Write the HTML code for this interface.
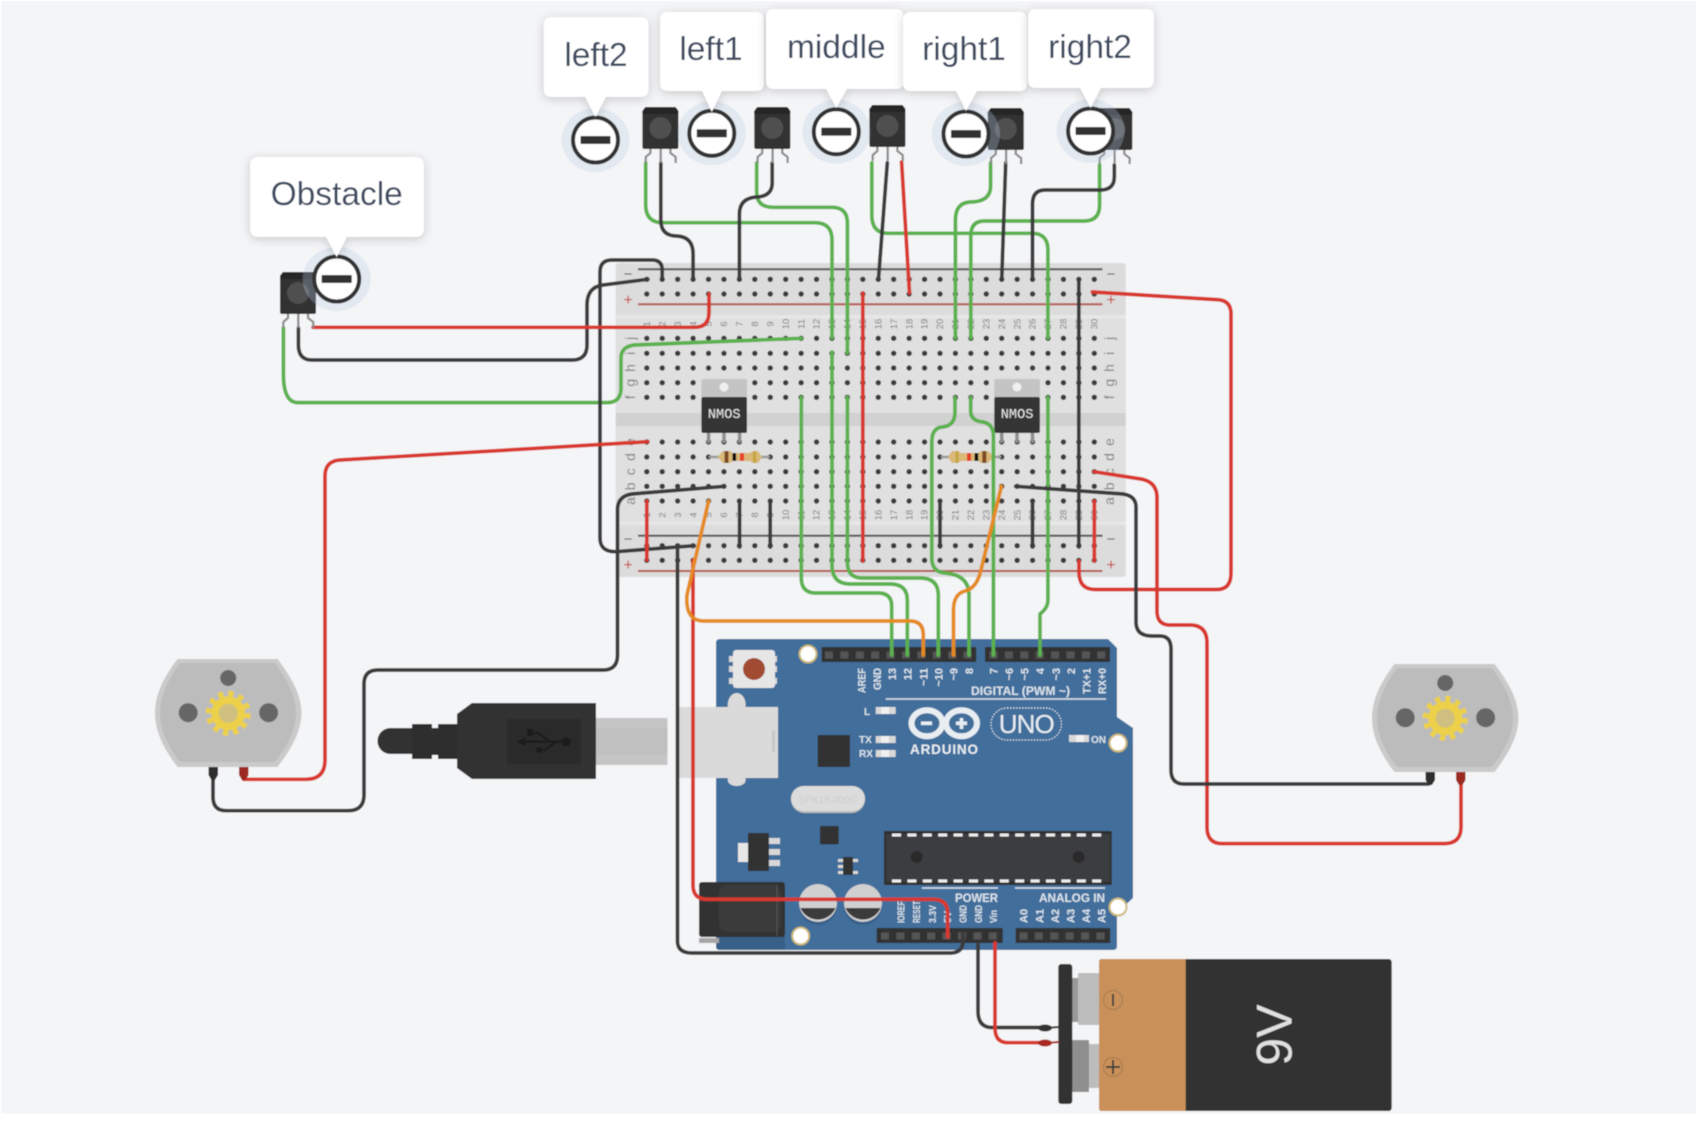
<!DOCTYPE html>
<html><head><meta charset="utf-8"><title>Circuit</title>
<style>
html,body{margin:0;padding:0;background:#fff}
svg{display:block;position:absolute;left:0;top:0}
text{font-family:"Liberation Sans",sans-serif}
.w{fill:none;stroke-width:3.7;stroke-linecap:round;stroke-linejoin:round}
.g{stroke:#5cb14f}.k{stroke:#3a3a3a}.r{stroke:#d8372f}.o{stroke:#e58a22}
.n{font-size:9.5px;fill:#7c7c7c;text-anchor:middle}
.l{font-size:14px;fill:#808080;text-anchor:middle}
.cal{font-size:33.5px;fill:#3c4a5f;text-anchor:middle}
.a{font-size:11px;font-weight:bold;fill:#dbe4ec}
.b{font-size:10px;font-weight:bold;fill:#dbe4ec}
.s{filter:drop-shadow(0 2px 5px rgba(0,0,0,.18))}
.m{font-family:"Liberation Mono",monospace;font-size:13.6px;fill:#e6e6e6;text-anchor:middle}
</style></head><body>
<svg width="1696" height="1130" viewBox="0 0 1696 1130" xmlns="http://www.w3.org/2000/svg">
<defs>
<filter id="b" x="0" y="0" width="100%" height="100%"><feGaussianBlur stdDeviation="0.55"/></filter>
<g id="ir">
<g fill="none" stroke="#8a8a8a" stroke-width="2.2"><path d="M8 42V46L3.3 50V56"/><path d="M18.3 42V56"/><path d="M28 42V46L33.3 50V56"/></g>
<path d="M3 0H33L36 4V40Q36 42 34 42H2Q0 42 0 40V4Z" fill="#303030"/>
<path d="M3 0H33L36 4V7H0V4Z" fill="#252525"/>
<circle cx="18" cy="21" r="11" fill="#505050"/>
</g>
<g id="mm">
<ellipse cx="0" cy="0" rx="34" ry="32" fill="rgb(187,205,227)" opacity=".3"/>
<circle cx="0" cy="0" r="22.5" fill="#fff" stroke="#333" stroke-width="4"/>
<rect x="-15" y="-4" width="30" height="8" fill="#333"/>
</g>
<g id="motor">
<path d="M177.5 659H277.5C292 678 301.4 695 301.4 713C301.4 731 292 748 277.5 767H177.5C163 748 155 731 155 713C155 695 163 678 177.5 659Z" fill="#cacaca"/>
<path d="M180 663H275C288 681 296 697 296 713C296 729 288 745 275 762H180C167 745 160 729 160 713C160 697 167 681 180 663Z" fill="#bcbcbc"/>
<circle cx="228.2" cy="678" r="8" fill="#666"/>
<circle cx="188.2" cy="712.7" r="9.5" fill="#666"/>
<circle cx="268.6" cy="712.7" r="9.5" fill="#666"/>
<circle cx="228.2" cy="713.3" r="17" fill="#ecd04a"/>
<circle cx="228.2" cy="713.3" r="19" fill="none" stroke="#ecd04a" stroke-width="7" stroke-dasharray="5 4.95"/>
<circle cx="228.2" cy="713.3" r="9.5" fill="#cfc081"/>
<path d="M208.5 767H218V775L215 780H211.5L208.5 775Z" fill="#2e2e2e"/>
<path d="M239 767H248.5V775L245.5 780H242L239 775Z" fill="#9c2a22"/>
</g>
</defs>
<rect x="0" y="0" width="1696" height="1130" fill="#fff"/>
<g filter="url(#b)">
<rect x="1" y="1" width="1695" height="1113" fill="#f4f5f7"/>

<!-- breadboard -->
<rect x="615.7" y="263" width="510" height="314" rx="3" fill="#dcdcdc"/>
<rect x="615.7" y="317" width="510" height="206" fill="#e0e0e0"/>
<rect x="615.7" y="413" width="510" height="13" fill="#d1d1d1"/>
<rect x="615.7" y="315" width="510" height="3" fill="#e7e7e7"/>
<rect x="615.7" y="522" width="510" height="3" fill="#e7e7e7"/>
<g stroke-width="2">
<line x1="638" x2="1102.5" y1="269.3" y2="269.3" stroke="#555"/>
<line x1="638" x2="1102.5" y1="304.3" y2="304.3" stroke="#b5524b"/>
<line x1="638" x2="1102.5" y1="535.7" y2="535.7" stroke="#555"/>
<line x1="638" x2="1102.5" y1="571" y2="571" stroke="#b5524b"/>
</g>
<g stroke="#3b3b3b" stroke-width="5.4" stroke-linecap="round" stroke-dasharray="0 15.431">
<line x1="646.8" x2="1094.6" y1="279.3" y2="279.3"/>
<line x1="646.8" x2="1094.6" y1="294" y2="294"/>
<line x1="646.8" x2="1094.6" y1="338.3" y2="338.3"/>
<line x1="646.8" x2="1094.6" y1="353.3" y2="353.3"/>
<line x1="646.8" x2="1094.6" y1="368" y2="368"/>
<line x1="646.8" x2="1094.6" y1="382.7" y2="382.7"/>
<line x1="646.8" x2="1094.6" y1="397.3" y2="397.3"/>
<line x1="646.8" x2="1094.6" y1="442" y2="442"/>
<line x1="646.8" x2="1094.6" y1="457" y2="457"/>
<line x1="646.8" x2="1094.6" y1="471.7" y2="471.7"/>
<line x1="646.8" x2="1094.6" y1="486.3" y2="486.3"/>
<line x1="646.8" x2="1094.6" y1="501" y2="501"/>
<line x1="646.8" x2="1094.6" y1="545.7" y2="545.7"/>
<line x1="646.8" x2="1094.6" y1="560.3" y2="560.3"/>
</g>
<g font-size="15" fill="#555" text-anchor="middle">
<text x="628" y="279">−</text><text x="1111" y="279">−</text>
<text x="628" y="544">−</text><text x="1111" y="544">−</text>
</g>
<g font-size="16" fill="#c4443c" text-anchor="middle">
<text x="628" y="305">+</text><text x="1111" y="305">+</text>
<text x="628" y="570">+</text><text x="1111" y="570">+</text>
</g>
<g class="n">
<text class="n" transform="translate(650,324) rotate(-90)">1</text><text class="n" transform="translate(665.4,324) rotate(-90)">2</text><text class="n" transform="translate(680.9,324) rotate(-90)">3</text><text class="n" transform="translate(696.3,324) rotate(-90)">4</text><text class="n" transform="translate(711.7,324) rotate(-90)">5</text><text class="n" transform="translate(727.2,324) rotate(-90)">6</text><text class="n" transform="translate(742.6,324) rotate(-90)">7</text><text class="n" transform="translate(758,324) rotate(-90)">8</text><text class="n" transform="translate(773.4,324) rotate(-90)">9</text><text class="n" transform="translate(788.9,324) rotate(-90)">10</text><text class="n" transform="translate(804.3,324) rotate(-90)">11</text><text class="n" transform="translate(819.7,324) rotate(-90)">12</text><text class="n" transform="translate(835.2,324) rotate(-90)">13</text><text class="n" transform="translate(850.6,324) rotate(-90)">14</text><text class="n" transform="translate(866,324) rotate(-90)">15</text><text class="n" transform="translate(881.4,324) rotate(-90)">16</text><text class="n" transform="translate(896.9,324) rotate(-90)">17</text><text class="n" transform="translate(912.3,324) rotate(-90)">18</text><text class="n" transform="translate(927.7,324) rotate(-90)">19</text><text class="n" transform="translate(943.2,324) rotate(-90)">20</text><text class="n" transform="translate(958.6,324) rotate(-90)">21</text><text class="n" transform="translate(974,324) rotate(-90)">22</text><text class="n" transform="translate(989.4,324) rotate(-90)">23</text><text class="n" transform="translate(1004.9,324) rotate(-90)">24</text><text class="n" transform="translate(1020.3,324) rotate(-90)">25</text><text class="n" transform="translate(1035.7,324) rotate(-90)">26</text><text class="n" transform="translate(1051.1,324) rotate(-90)">27</text><text class="n" transform="translate(1066.6,324) rotate(-90)">28</text><text class="n" transform="translate(1082,324) rotate(-90)">29</text><text class="n" transform="translate(1097.5,324) rotate(-90)">30</text>
<text class="n" transform="translate(650,515) rotate(-90)">1</text><text class="n" transform="translate(665.4,515) rotate(-90)">2</text><text class="n" transform="translate(680.9,515) rotate(-90)">3</text><text class="n" transform="translate(696.3,515) rotate(-90)">4</text><text class="n" transform="translate(711.7,515) rotate(-90)">5</text><text class="n" transform="translate(727.2,515) rotate(-90)">6</text><text class="n" transform="translate(742.6,515) rotate(-90)">7</text><text class="n" transform="translate(758,515) rotate(-90)">8</text><text class="n" transform="translate(773.4,515) rotate(-90)">9</text><text class="n" transform="translate(788.9,515) rotate(-90)">10</text><text class="n" transform="translate(804.3,515) rotate(-90)">11</text><text class="n" transform="translate(819.7,515) rotate(-90)">12</text><text class="n" transform="translate(835.2,515) rotate(-90)">13</text><text class="n" transform="translate(850.6,515) rotate(-90)">14</text><text class="n" transform="translate(866,515) rotate(-90)">15</text><text class="n" transform="translate(881.4,515) rotate(-90)">16</text><text class="n" transform="translate(896.9,515) rotate(-90)">17</text><text class="n" transform="translate(912.3,515) rotate(-90)">18</text><text class="n" transform="translate(927.7,515) rotate(-90)">19</text><text class="n" transform="translate(943.2,515) rotate(-90)">20</text><text class="n" transform="translate(958.6,515) rotate(-90)">21</text><text class="n" transform="translate(974,515) rotate(-90)">22</text><text class="n" transform="translate(989.4,515) rotate(-90)">23</text><text class="n" transform="translate(1004.9,515) rotate(-90)">24</text><text class="n" transform="translate(1020.3,515) rotate(-90)">25</text><text class="n" transform="translate(1035.7,515) rotate(-90)">26</text><text class="n" transform="translate(1051.1,515) rotate(-90)">27</text><text class="n" transform="translate(1066.6,515) rotate(-90)">28</text><text class="n" transform="translate(1082,515) rotate(-90)">29</text><text class="n" transform="translate(1097.5,515) rotate(-90)">30</text>
</g>
<g>
<text class="l" transform="translate(635,338.3) rotate(-90)">j</text><text class="l" transform="translate(635,353.3) rotate(-90)">i</text><text class="l" transform="translate(635,368) rotate(-90)">h</text><text class="l" transform="translate(635,382.7) rotate(-90)">g</text><text class="l" transform="translate(635,397.3) rotate(-90)">f</text><text class="l" transform="translate(635,442) rotate(-90)">e</text><text class="l" transform="translate(635,457) rotate(-90)">d</text><text class="l" transform="translate(635,471.7) rotate(-90)">c</text><text class="l" transform="translate(635,486.3) rotate(-90)">b</text><text class="l" transform="translate(635,501) rotate(-90)">a</text>
<text class="l" transform="translate(1114,338.3) rotate(-90)">j</text><text class="l" transform="translate(1114,353.3) rotate(-90)">i</text><text class="l" transform="translate(1114,368) rotate(-90)">h</text><text class="l" transform="translate(1114,382.7) rotate(-90)">g</text><text class="l" transform="translate(1114,397.3) rotate(-90)">f</text><text class="l" transform="translate(1114,442) rotate(-90)">e</text><text class="l" transform="translate(1114,457) rotate(-90)">d</text><text class="l" transform="translate(1114,471.7) rotate(-90)">c</text><text class="l" transform="translate(1114,486.3) rotate(-90)">b</text><text class="l" transform="translate(1114,501) rotate(-90)">a</text>
</g>

<!-- NMOS -->
<g>
<g stroke="#8d8d8d" stroke-width="3.4"><line x1="708.6" x2="708.6" y1="430" y2="443"/><line x1="724" x2="724" y1="430" y2="443"/><line x1="739.6" x2="739.6" y1="430" y2="443"/></g>
<rect x="701.4" y="379" width="45.6" height="20" rx="2" fill="#c4c4c4"/>
<circle cx="724" cy="387" r="4.5" fill="#efefef"/>
<rect x="701.4" y="397" width="45.6" height="36" rx="2" fill="#353535"/>
<text class="m" x="724.2" y="418">NMOS</text>
</g>
<g>
<g stroke="#8d8d8d" stroke-width="3.4"><line x1="1001.7" x2="1001.7" y1="430" y2="443"/><line x1="1017" x2="1017" y1="430" y2="443"/><line x1="1032.5" x2="1032.5" y1="430" y2="443"/></g>
<rect x="994.3" y="379" width="45.6" height="20" rx="2" fill="#c4c4c4"/>
<circle cx="1017" cy="387" r="4.5" fill="#efefef"/>
<rect x="994.3" y="397" width="45.6" height="36" rx="2" fill="#353535"/>
<text class="m" x="1017.1" y="418">NMOS</text>
</g>
<!-- resistors -->
<g>
<line x1="708.6" x2="770" y1="457" y2="457" stroke="#999" stroke-width="2.6"/>
<path d="M717.5 457L723 451H730L733 453H750L753 451H758L762 457L758 463H753L750 461H733L730 463H723Z" fill="#d9b878"/>
<rect x="724.5" y="451" width="4" height="12" fill="#7d4a20"/><rect x="732.5" y="453" width="3.6" height="8" fill="#111"/><rect x="740" y="453" width="4" height="8" fill="#e8402a"/><rect x="753" y="451" width="3" height="12" fill="#c2a73e"/>
<line x1="940.7" x2="1001.4" y1="457" y2="457" stroke="#999" stroke-width="2.6"/>
<path d="M948 457L952 451H958L961 453H978L981 451H988L994 457L988 463H981L978 461H961L958 463H952Z" fill="#d9b878"/>
<rect x="955.5" y="451" width="3" height="12" fill="#c2a73e"/><rect x="967" y="453" width="4" height="8" fill="#e8402a"/><rect x="974.6" y="453" width="3.6" height="8" fill="#111"/><rect x="982.3" y="451" width="4" height="12" fill="#7d4a20"/>
</g>

<!-- USB cable + arduino -->
<path d="M377.5 741a13 13 0 0 1 13-13H412V754H390.5a13 13 0 0 1-13-13Z" fill="#333"/>
<path d="M412 724H432V728H438V724H457V759H438V755H432V759H412Z" fill="#2f2f2f"/>
<path d="M457 714L472 703H596V779H472L457 768Z" fill="#313131"/>
<rect x="507" y="719" width="74" height="45" fill="#292929"/>
<g fill="none" stroke="#1c1c1c" stroke-width="2"><path d="M520 741.7H565"/><path d="M550 741.7L538 733H533"/><path d="M556 741.7L545 750H540"/></g>
<path d="M517 741.7L525 737.5V746Z" fill="#1c1c1c"/>
<circle cx="566" cy="741.7" r="4.5" fill="#1c1c1c"/><rect x="527" y="729" width="6" height="7" fill="#1c1c1c"/><circle cx="539" cy="750" r="3" fill="#1c1c1c"/>
<rect x="596" y="718" width="71.5" height="47" fill="#c5c5c5"/>
<rect x="596" y="728" width="71.5" height="26" fill="#c0c0c0"/>

<path d="M720 639H1108L1117 648V717L1133 728V898L1117 913V946Q1117 950 1113 950H720Q716 950 716 946V643Q716 639 720 639Z" fill="#426e9b"/>
<path d="M716 936H785V950H720Q716 950 716 946Z" fill="#385f88"/>
<ellipse cx="736.7" cy="705" rx="9" ry="12" fill="#dadada"/><ellipse cx="736.7" cy="780" rx="9" ry="6" fill="#dadada"/>
<rect x="678" y="707" width="100" height="71" fill="#dadada"/>
<rect x="772" y="730" width="3" height="22" fill="#c8c8c8"/>
<g fill="#fff" stroke="#cdb978" stroke-width="2"><circle cx="808" cy="654" r="8.5"/><circle cx="1118" cy="743" r="8.5"/><circle cx="1118" cy="907" r="8.5"/><circle cx="800.7" cy="936" r="8.5"/></g>
<!-- reset -->
<g fill="#d8d8d8"><rect x="729" y="656" width="48" height="6"/><rect x="729" y="666" width="48" height="6"/><rect x="729" y="678" width="48" height="6"/></g>
<rect x="733" y="650" width="42" height="38" rx="3" fill="#e6e6e6"/>
<circle cx="754" cy="669" r="11" fill="#a04b32"/>
<!-- headers -->
<g fill="#333">
<rect x="821.7" y="647" width="154.5" height="15"/>
<rect x="985" y="647" width="125" height="15"/>
<rect x="876.7" y="928" width="126" height="15"/>
<rect x="1015.7" y="928" width="94.5" height="15"/>
</g>
<g stroke="#555" stroke-width="7" fill="none" stroke-dasharray="8 7.4">
<line x1="825" x2="976" y1="655" y2="655"/>
<line x1="989.5" x2="1110" y1="655" y2="655"/>
<line x1="881" x2="1002" y1="936" y2="936"/>
<line x1="1019.5" x2="1110" y1="936" y2="936"/>
</g>
<g>
<text class="a" text-anchor="end" textLength="25" lengthAdjust="spacingAndGlyphs" transform="translate(865.5,668) rotate(-90)">AREF</text>
<text class="a" text-anchor="end" textLength="22" lengthAdjust="spacingAndGlyphs" transform="translate(881,668) rotate(-90)">GND</text>
<text class="a" text-anchor="end" transform="translate(896,668) rotate(-90)">13</text>
<text class="a" text-anchor="end" transform="translate(911.5,668) rotate(-90)">12</text>
<text class="a" text-anchor="end" transform="translate(927.5,668) rotate(-90)">~11</text>
<text class="a" text-anchor="end" transform="translate(942.5,668) rotate(-90)">~10</text>
<text class="a" text-anchor="end" transform="translate(957.5,668) rotate(-90)">~9</text>
<text class="a" text-anchor="end" transform="translate(973,668) rotate(-90)">8</text>
<text class="a" text-anchor="end" transform="translate(997.5,668) rotate(-90)">7</text>
<text class="a" text-anchor="end" transform="translate(1013,668) rotate(-90)">~6</text>
<text class="a" text-anchor="end" transform="translate(1028.5,668) rotate(-90)">~5</text>
<text class="a" text-anchor="end" transform="translate(1044,668) rotate(-90)">4</text>
<text class="a" text-anchor="end" transform="translate(1060,668) rotate(-90)">~3</text>
<text class="a" text-anchor="end" transform="translate(1075,668) rotate(-90)">2</text>
<text class="a" text-anchor="end" textLength="26" lengthAdjust="spacingAndGlyphs" transform="translate(1090.5,668) rotate(-90)">TX+1</text>
<text class="a" text-anchor="end" textLength="26" lengthAdjust="spacingAndGlyphs" transform="translate(1106,668) rotate(-90)">RX+0</text>
<text x="971" y="695" textLength="99" lengthAdjust="spacingAndGlyphs" font-size="11.5" font-weight="bold" fill="#dbe4ec">DIGITAL (PWM ~)</text>
<text x="955" y="902" textLength="43" lengthAdjust="spacingAndGlyphs" font-size="11.5" font-weight="bold" fill="#dbe4ec">POWER</text>
<text x="1039" y="902" textLength="66" lengthAdjust="spacingAndGlyphs" font-size="11.5" font-weight="bold" fill="#dbe4ec">ANALOG IN</text>
<text class="b" textLength="22" lengthAdjust="spacingAndGlyphs" transform="translate(904.5,923) rotate(-90)">IOREF</text>
<text class="b" textLength="22" lengthAdjust="spacingAndGlyphs" transform="translate(920,923) rotate(-90)">RESET</text>
<text class="b" textLength="18" lengthAdjust="spacingAndGlyphs" transform="translate(936,923) rotate(-90)">3.3V</text>
<text class="b" textLength="12" lengthAdjust="spacingAndGlyphs" transform="translate(951,923) rotate(-90)">5V</text>
<text class="b" textLength="18" lengthAdjust="spacingAndGlyphs" transform="translate(966.5,923) rotate(-90)">GND</text>
<text class="b" textLength="18" lengthAdjust="spacingAndGlyphs" transform="translate(982,923) rotate(-90)">GND</text>
<text class="b" textLength="13" lengthAdjust="spacingAndGlyphs" transform="translate(997,923) rotate(-90)">Vin</text>
<text class="a" transform="translate(1027.5,923) rotate(-90)">A0</text>
<text class="a" transform="translate(1043.5,923) rotate(-90)">A1</text>
<text class="a" transform="translate(1059,923) rotate(-90)">A2</text>
<text class="a" transform="translate(1074.5,923) rotate(-90)">A3</text>
<text class="a" transform="translate(1090,923) rotate(-90)">A4</text>
<text class="a" transform="translate(1105.5,923) rotate(-90)">A5</text>
<text x="864" y="715" font-size="10" font-weight="bold" fill="#dbe4ec">L</text>
<text x="859" y="743" font-size="10" font-weight="bold" fill="#dbe4ec">TX</text>
<text x="859" y="757" font-size="10" font-weight="bold" fill="#dbe4ec">RX</text>
<text x="1091" y="743" font-size="10" font-weight="bold" fill="#dbe4ec">ON</text>
</g>
<g stroke="#dbe4ec" stroke-width="1.6"><line x1="885.7" x2="1106" y1="699" y2="699"/><line x1="922" x2="998" y1="888" y2="888"/><line x1="1015" x2="1105" y1="888" y2="888"/></g>
<g fill="#d8d8d8"><rect x="875.7" y="707" width="20" height="7"/><rect x="875.7" y="736" width="20" height="7"/><rect x="875.7" y="750" width="20" height="7"/><rect x="1069" y="735" width="20" height="7"/></g>
<g fill="#f0f0f0"><rect x="881" y="707" width="8" height="7"/><rect x="881" y="736" width="8" height="7"/><rect x="881" y="750" width="8" height="7"/><rect x="1076" y="735" width="8" height="7"/></g>
<!-- logo -->
<g fill="none" stroke="#e8edf2" stroke-width="6"><ellipse cx="927" cy="723.3" rx="15.5" ry="13"/><ellipse cx="961.5" cy="723.3" rx="15.5" ry="13"/></g>
<g fill="#e8edf2"><rect x="921" y="721.5" width="11" height="3.6"/><rect x="956" y="721.5" width="11" height="3.6"/><rect x="959.7" y="718" width="3.6" height="11"/></g>
<text x="944" y="754" text-anchor="middle" textLength="68" font-size="13.5" font-weight="bold" fill="#e8edf2">ARDUINO</text>
<rect x="991" y="708" width="70.5" height="32" rx="16" fill="none" stroke="#dbe4ec" stroke-width="1.2" stroke-dasharray="1.5 1.5"/>
<text x="1026.7" y="733" text-anchor="middle" textLength="56" font-size="26" fill="#e8edf2">UNO</text>
<!-- components -->
<rect x="817.7" y="735" width="32.3" height="32" fill="#333" rx="1"/>
<rect x="791" y="786" width="74" height="27" rx="13.5" fill="#bdbdbd"/>
<rect x="791" y="786" width="74" height="25" rx="12.5" fill="#dcdcdc"/>
<text x="828" y="803" text-anchor="middle" font-size="10" fill="#cdcdcd">SPK16.000G</text>
<rect x="820" y="826" width="18.7" height="18.4" rx="1" fill="#333"/>
<rect x="738" y="843" width="10" height="19" fill="#e6e6e6"/>
<g fill="#d8d8d8"><rect x="768" y="838" width="12" height="6"/><rect x="768" y="849" width="12" height="6"/><rect x="768" y="860" width="12" height="6"/></g>
<rect x="748" y="833" width="21" height="38" fill="#333"/>
<g fill="#d8d8d8"><rect x="838" y="859" width="20" height="3"/><rect x="838" y="865" width="5" height="3"/><rect x="838" y="871" width="5" height="3"/><rect x="853" y="871" width="5" height="3"/></g>
<rect x="843" y="857" width="10" height="18" fill="#333"/>
<rect x="884" y="831" width="227.7" height="54" rx="1" fill="#2e2e2e"/>
<rect x="886" y="834" width="224" height="48" fill="#3a3d40"/>
<g stroke="#ececec" stroke-width="3"><line x1="892" x2="1106" y1="835" y2="835" stroke-dasharray="9 6.4"/><line x1="892" x2="1106" y1="881" y2="881" stroke-dasharray="9 6.4"/></g>
<circle cx="916.7" cy="857" r="6" fill="#2a2a2a"/><circle cx="1078.7" cy="857" r="6" fill="#2a2a2a"/>
<!-- jack & caps -->
<rect x="699" y="938" width="20" height="5" fill="#a5a5a5"/>
<rect x="699" y="882" width="86" height="55" rx="3" fill="#303030"/>
<rect x="719" y="885" width="62" height="47" rx="8" fill="#3a3a3a"/>
<line x1="777" x2="777" y1="885" y2="936" stroke="#555" stroke-width="1"/>
<g>
<circle cx="818" cy="906" r="19" fill="#385f88"/><circle cx="863" cy="906" r="19" fill="#385f88"/>
<circle cx="818" cy="903" r="19" fill="#d0d0d0"/><circle cx="863" cy="903" r="19" fill="#d0d0d0"/>
<path d="M800.5 908H835.5A19 19 0 0 1 800.5 908Z" fill="#3a3a3a"/><path d="M845.5 908H880.5A19 19 0 0 1 845.5 908Z" fill="#3a3a3a"/>
</g>

<!-- battery -->
<rect x="1072" y="978" width="6" height="44" fill="#999"/>
<rect x="1078" y="973" width="21" height="52" rx="1" fill="#bdbdbd"/>
<rect x="1072" y="1040" width="17" height="52" rx="1" fill="#8f8f8f"/>
<rect x="1089" y="1044" width="10" height="44" fill="#bdbdbd"/>
<rect x="1058.3" y="964" width="14" height="140" rx="3" fill="#333"/>
<rect x="1099" y="959" width="292.7" height="152" rx="3" fill="#333"/>
<path d="M1102 959H1185.7V1111H1102Q1099 1111 1099 1108V962Q1099 959 1102 959Z" fill="#c9905a"/>
<g fill="none" stroke="#a57a50" stroke-width="1"><circle cx="1113" cy="1000" r="9.5"/><circle cx="1113" cy="1067" r="9.5"/></g>
<g stroke="#3a3a3a" stroke-width="1.8"><line x1="1113" x2="1113" y1="994" y2="1006"/><line x1="1106" x2="1120" y1="1067" y2="1067"/><line x1="1113" x2="1113" y1="1060" y2="1074"/></g>
<text transform="translate(1291.5,1035) rotate(-90)" text-anchor="middle" font-size="50" fill="#e0e0e0">9V</text>

<!-- wires -->
<g class="w">
<path class="w g" d="M801.3 397.3V578Q801.3 593 816 593H878Q891.7 593 891.7 606V655"/>
<path class="w g" d="M832 352V565Q832 584 850 584H890Q907.3 584 907.3 600V655"/>
<path class="w g" d="M847.4 397.3V562Q847.4 578 862 578H920Q938.3 578 938.3 595V655"/>
<path class="w g" d="M955 397.3V412Q955 426 942 427Q931.8 428 931.8 442V558Q931.8 572 945 573Q969 575 969 595V655"/>
<path class="w g" d="M970.7 397.3V411Q970.7 421 983 422Q993.4 424 993.4 436V655"/>
<path class="w g" d="M1047.9 397.3V600Q1047.9 608 1040 614V655"/>
<path class="w g" d="M645.7 163V205Q645.7 222.7 663 222.7H815Q832 222.7 832 240V338"/>
<path class="w g" d="M756.7 163V192Q756.7 207.3 773 207.3H832Q847.4 207.3 847.4 223V353"/>
<path class="w g" d="M871.8 163V215Q871.8 233.3 888 233.3H1032Q1047.9 233.3 1047.9 250V338"/>
<path class="w g" d="M990.6 163V186Q990.6 202 970 202Q955.4 203 955.4 220V338"/>
<path class="w g" d="M1099.6 165V205Q1099.6 221 1084 221H984Q970.8 221 970.8 236V338"/>
<path class="w g" d="M283.4 328V374Q283.4 402.6 298 402.6H607Q621 402.6 621 388V358Q621 347 634 345L801.3 338.3"/>
<path class="w k" d="M660.8 163V220Q660.8 236 677 236Q693.1 237 693.1 254V279"/>
<path class="w k" d="M772.2 163V183Q772.2 196 757 197Q739.4 198 739.4 214V279"/>
<path class="w k" d="M887.3 163L878.4 280"/>
<path class="w r" d="M901.6 162L909.5 293"/>
<path class="w k" d="M1005.7 163L1001.7 280"/>
<path class="w k" d="M1114.3 165V177Q1114.3 190 1100 190H1045Q1032.5 190 1032.5 204V280"/>
<path class="w k" d="M662.2 279V270Q662.2 260 652 260H612Q600 260 600 272V538Q600 552 616 551.7L694.3 545.7"/>
<path class="w k" d="M647.9 279.3L603 285Q587 287 587 305V345Q587 360 572 360H312Q298.4 360 298.4 345V328"/>
<path class="w r" d="M313 327.3H695Q709 327.3 709 312V294"/>
<path class="w r" d="M647.9 441.7L340 460Q325 461 325 476V760Q325 779.3 306 779.3H243.6"/>
<path class="w k" d="M724.6 486.3L632 494Q617.5 496 617.5 510V655Q617.5 670 603 670H378Q364 670 364 684V795Q364 810.7 348 810.7H226Q213 810.7 213 797V780"/>
<path class="w k" d="M677.5 546.7V941Q677.5 953 692 953H950Q963 953 963 941V933"/>
<path class="w r" d="M693 560V885Q693 899.3 707 899.3H933Q947.7 899.3 947.7 913V937"/>
<path class="w o" d="M708.6 501L687 595Q685 621 704 621H910Q923.3 621 923.3 635V655"/>
<path class="w o" d="M1001.4 486.3L981 570Q977 588 965 591Q953.5 594 953.5 610V655"/>
<path class="w k" d="M739.6 501V547M770.2 501V547M940 501V547M1032.5 501V547M1078.8 280V547"/>
<path class="w r" d="M646.8 501V560M862.8 293V561M1094.3 501V561"/>
<path class="w r" d="M1079 561V572Q1079 589.5 1095 589.5H1217Q1231 589.5 1231 573V314Q1231 300 1217 299.6L1092.4 292"/>
<path class="w r" d="M1094 471.7L1141 479Q1157 482 1157 497.5V611Q1157 625 1170 625H1190Q1207 625 1207 643V827Q1207 843.6 1222 843.6H1444Q1461 843.6 1461 827V776"/>
<path class="w k" d="M1015.7 486.3L1123 494Q1136 496 1136 507V622Q1136 636 1152 636H1160Q1171 636 1171 649V770Q1171 784 1184 784H1428Q1431 784 1431 778"/>
<path class="w k" d="M978 943V1011Q978 1027.5 992 1027.5H1040"/>
<path class="w r" d="M995 943V1028Q995 1042.7 1008 1042.7H1044"/>
</g>
<ellipse cx="1045" cy="1028" rx="7" ry="3.5" fill="#333"/><line x1="1045" x2="1059" y1="1028" y2="1027" stroke="#333" stroke-width="2"/>
<ellipse cx="1045" cy="1043" rx="7" ry="3.5" fill="#a92a22"/><line x1="1045" x2="1059" y1="1043" y2="1042" stroke="#a92a22" stroke-width="2"/>

<!-- motors -->
<use href="#motor"/>
<use href="#motor" transform="translate(1217,5)"/>

<!-- sensors -->
<use href="#ir" transform="translate(280,272)"/>
<use href="#ir" transform="translate(642.4,107)"/>
<use href="#ir" transform="translate(754.3,107)"/>
<use href="#ir" transform="translate(869.4,105)"/>
<use href="#ir" transform="translate(987.8,108)"/>
<use href="#ir" transform="translate(1096.3,108)"/>

<!-- multimeters -->
<use href="#mm" transform="translate(336.7,279)"/>
<use href="#mm" transform="translate(595.5,140)"/>
<use href="#mm" transform="translate(711.8,133.3)"/>
<use href="#mm" transform="translate(836.3,131.7)"/>
<use href="#mm" transform="translate(966,134)"/>
<use href="#mm" transform="translate(1090.6,131)"/>

<!-- callouts -->
<g fill="#fff">
<path class="s" d="M259 157H415Q424 157 424 166V228Q424 237 415 237H347L336.7 257L326 237H259Q250 237 250 228V166Q250 157 259 157Z"/>
<path class="s" d="M551.7 17H640.6Q648.6 17 648.6 25V89Q648.6 97 640.6 97H606L595.5 117L585 97H551.7Q543.7 97 543.7 89V25Q543.7 17 551.7 17Z"/>
<path class="s" d="M668 12H756Q764 12 764 20V83Q764 91 756 91H722L711.8 112L702 91H668Q660 91 660 83V20Q660 12 668 12Z"/>
<path class="s" d="M774 9H896Q903.7 9 903.7 17V81Q903.7 89 896 89H847L836.3 108L826 89H774Q766 89 766 81V17Q766 9 774 9Z"/>
<path class="s" d="M911 12H1019Q1027.3 12 1027.3 20V83Q1027.3 91 1019 91H977L966 111L956 91H911Q903 91 903 83V20Q903 12 911 12Z"/>
<path class="s" d="M1036 9H1146Q1154 9 1154 17V80Q1154 88 1146 88H1101L1090.6 108L1080 88H1036Q1028 88 1028 80V17Q1028 9 1036 9Z"/>
</g>
<text class="cal" x="336.7" y="205">Obstacle</text>
<text class="cal" x="596" y="66">left2</text>
<text class="cal" x="711" y="60">left1</text>
<text class="cal" x="836.3" y="58">middle</text>
<text class="cal" x="964" y="60">right1</text>
<text class="cal" x="1090" y="58">right2</text>
</g>
</svg>
</body></html>
